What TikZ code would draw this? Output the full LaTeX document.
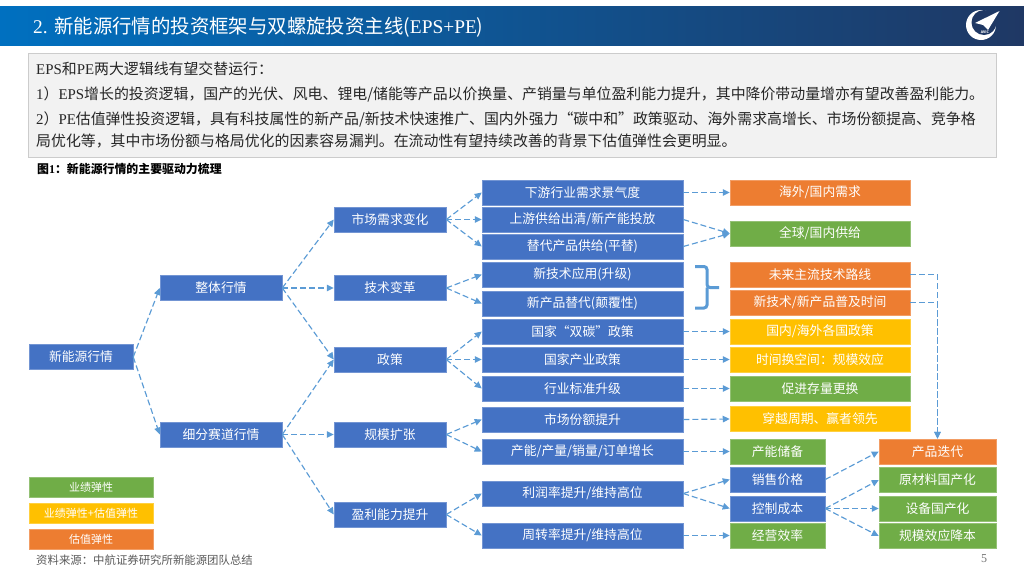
\documentclass[tikz,border=0pt]{standalone}
\usepackage{fontspec}
\usepackage{xcolor}
\setmainfont{Noto Sans CJK SC}
\newfontfamily\lat{Liberation Serif}
\usetikzlibrary{arrows.meta,positioning}
\definecolor{cblue}{HTML}{4472C4}
\definecolor{corange}{HTML}{ED7D31}
\definecolor{cgreen}{HTML}{70AD47}
\definecolor{cyellow}{HTML}{FFC000}
\definecolor{clink}{HTML}{5B9BD5}
\definecolor{hleft}{HTML}{0070C0}
\definecolor{hmid}{HTML}{2A5595}
\definecolor{hright}{HTML}{1F3864}
\tikzset{
  cell/.style={fill=#1,draw=#1!75!white,line width=0.5pt,text=white,inner sep=0pt,
    minimum height=25pt,font=\fontsize{12.8}{14}\selectfont},
  link/.style={draw=clink,line width=1.15pt,dash pattern=on 6pt off 3pt,
    -{Triangle[length=7pt,width=6.5pt]}},
  bodyline/.style={anchor=west,inner sep=0pt,text=black!85,font=\fontsize{14.9}{16}\selectfont},
}
\begin{document}
\begin{tikzpicture}[x=1pt,y=-1pt]
  \useasboundingbox (0,0) rectangle (1024,576);
  % header band
  \shade[left color=hleft,middle color=hmid,right color=hright] (0,6) rectangle (1024,45);
  \node[anchor=west,inner sep=0pt,text=white,font=\fontsize{19.4}{22}\selectfont] (title) at (33,27)
    {{\lat 2. }新能源行情的投资框架与双螺旋投资主线({\lat EPS+PE})};
  % logo
  \fill[white] (981,25) circle (15);
  \fill[hright] (984,22.5) circle (12.5);
  \fill[white] (999.5,11) -- (975,23) -- (983,25) -- (988,30) -- cycle;
  \node[text=white,inner sep=0pt,font=\fontsize{3.5}{4}\selectfont\bfseries] (avic) at (985,32) {AVIC};
  % text panel
  \draw[fill=black!5,draw=black!20,line width=0.7pt] (28,53) rectangle (996,157);
  \node[bodyline] (lineA) at (36,68.5) {{\lat EPS}和{\lat PE}两大逻辑线有望交替运行：};
  \node[bodyline] (lineB) at (36,94.5) {{\lat 1}）{\lat EPS}增长的投资逻辑，国产的光伏、风电、锂电/储能等产品以价换量、产销量与单位盈利能力提升，其中降价带动量增亦有望改善盈利能力。};
  \node[bodyline] (lineC) at (36,119.5) {{\lat 2}）{\lat PE}估值弹性投资逻辑，具有科技属性的新产品/新技术快速推广、国内外强力“碳中和”政策驱动、海外需求高增长、市场份额提高、竞争格};
  \node[bodyline] (lineD) at (36,140.5) {局优化等，其中市场份额与格局优化的因素容易漏判。在流动性有望持续改善的背景下估值弹性会更明显。};
  \node[anchor=west,inner sep=0pt,font=\fontsize{11.9}{13}\selectfont\bfseries] (caption) at (37,169) {图{\lat 1}：新能源行情的主要驱动力梳理};
  % first two levels
  \node[cell=cblue,minimum width=104pt] (root) at (81,357) {新能源行情};
  \foreach \nm/\yy/\lab in {whole/288/整体行情,niche/434.5/细分赛道行情}
    \node[cell=cblue,minimum width=122pt] (\nm) at (221,\yy) {\lab};
  % drivers
  \foreach \nm/\yy/\lab in {demand/219.5/市场需求变化,tech/288/技术变革,policy/359.5/政策,
    scale/434.5/规模扩张,profit/514.5/盈利能力提升}
    \node[cell=cblue,minimum width=112pt] (\nm) at (390,\yy) {\lab};
  % factors
  \foreach \nm/\yy/\lab in {down/192.5/下游行业需求景气度,up/219.5/{上游供给出清/新产能投放},
    subst/246.5/替代产品供给(平替),newtech/274.5/新技术应用(升级),newprod/303.5/新产品替代(颠覆性),
    carbon/331.5/国家“双碳”政策,indus/359.5/国家产业政策,standard/388.5/行业标准升级,
    share/419.5/市场份额提升,volume/451.5/{产能/产量/销量/订单增长},
    margin/493.5/{利润率提升/维持高位},turnover/535.5/{周转率提升/维持高位}}
    \node[cell=cblue,minimum width=201pt] (\nm) at (582.5,\yy) {\lab};
  % outcomes
  \foreach \nm/\yy/\clr/\lab in {abroad/192.5/corange/{海外/国内需求},supply/233.5/cgreen/{全球/国内供给},
    route/274.5/corange/未来主流技术路线,spread/302.5/corange/{新技术/新产品普及时间},
    rules/331.5/cyellow/{国内/海外各国政策},timing/359.5/cyellow/时间换空间：规模效应,
    stock/388.5/cgreen/促进存量更换,cycle/419/cyellow/穿越周期、赢者领先}
    \node[cell=\clr,minimum width=180pt] (\nm) at (820,\yy) {\lab};
  \foreach \nm/\yy/\clr/\lab in {reserve/451.5/cgreen/产能储备,price/479.5/cblue/销售价格,
    cost/508.5/cblue/控制成本,effic/535.5/cgreen/经营效率}
    \node[cell=\clr,minimum width=95pt] (\nm) at (777.5,\yy) {\lab};
  \foreach \nm/\yy/\clr/\lab in {iter/451.5/corange/产品迭代,material/480/cgreen/原材料国产化,
    equip/508.5/cgreen/设备国产化,scalecost/536/cgreen/规模效应降本}
    \node[cell=\clr,minimum width=117pt] (\nm) at (937.5,\yy) {\lab};
  % legend
  \foreach \nm/\yy/\clr/\lab in {keyA/487/cgreen/业绩弹性,keyB/513/cyellow/业绩弹性+估值弹性,keyC/539/corange/估值弹性}
    \node[cell=\clr,minimum width=124pt,minimum height=20pt,font=\fontsize{11}{13}\selectfont] (\nm) at (91,\yy) {\lab};
  % connectors
  \foreach \a/\b in {root/whole,root/niche,whole/demand,whole/tech,whole/policy,niche/policy,niche/scale,niche/profit,
    demand/down,demand/up,demand/subst,tech/newtech,tech/newprod,policy/carbon,policy/indus,policy/standard,
    scale/share,scale/volume,profit/margin,profit/turnover,down/abroad,up/supply,subst/supply,carbon/rules,
    indus/timing,standard/stock,share/cycle,volume/reserve,margin/price,margin/cost,turnover/effic,
    price/iter,cost/material,cost/equip,cost/scalecost}
    \draw[link] (\a.east) -- (\b.west);
  \draw[link] (route.east) -| (iter.north);
  \draw[link] (spread.east) -| (iter.north);
  % brace
  \draw[clink,line width=3pt,rounded corners=3pt] (695,266.5) -- (707,266.5) -- (707,287.5) -- (719,287.5)
    (707,287.5) -- (707,308) -- (695,308);
  % footer
  \node[anchor=west,inner sep=0pt,text=black!65,font=\fontsize{11.4}{13}\selectfont] (source) at (36,560) {资料来源：中航证券研究所新能源团队总结};
  \node[inner sep=0pt,text=black!55,font=\fontsize{12}{14}\selectfont\lat] (pageno) at (984,559) {5};
\end{tikzpicture}
\end{document}
